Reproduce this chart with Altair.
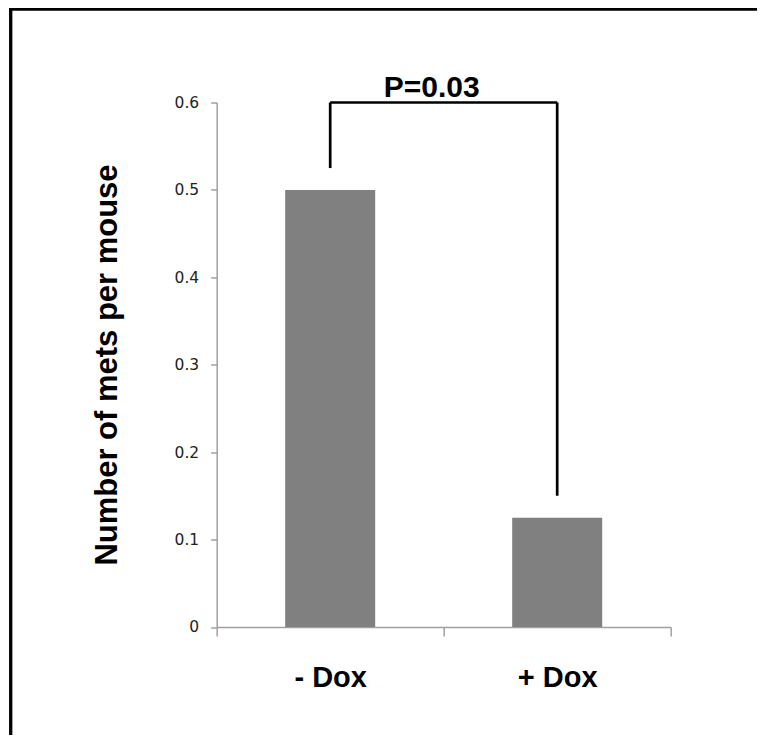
import altair as alt
import pandas as pd

# ---- data ----
categories = ["- Dox", "+ Dox"]
values = [0.5, 0.125]

bracket_top = 0.6
bracket_bottoms = [0.525, 0.15]
p_label = "P=0.03"

y_ticks = [0, 0.1, 0.2, 0.3, 0.4, 0.5, 0.6]

FONT = "Liberation Sans"
GREY_AXIS = "#a0a0a0"

bars_df = pd.DataFrame({"cat": categories, "val": values})
vert_df = pd.DataFrame({"cat": categories, "top": [bracket_top] * 2, "bottom": bracket_bottoms})
horiz_df = pd.DataFrame({"c1": [categories[0]], "c2": [categories[1]], "top": [bracket_top]})
text_df = pd.DataFrame({"cat": [categories[1]], "top": [bracket_top], "label": [p_label]})

x_scale = alt.Scale(domain=categories, paddingInner=0, paddingOuter=0)
y_scale = alt.Scale(domain=[0, 0.6], nice=False)

x_axis = alt.Axis(
    title=None, tickBand="extent", tickSize=9, tickColor=GREY_AXIS, domainColor=GREY_AXIS,
    tickWidth=1.5, domainWidth=1.5,
    labelFont=FONT, labelFontSize=29, labelFontWeight="bold", labelColor="black",
    labelBaseline="alphabetic", labelPadding=51, labelAngle=0,
)
y_axis = alt.Axis(
    values=y_ticks, grid=False, tickSize=6, tickColor=GREY_AXIS, domainColor=GREY_AXIS,
    tickWidth=1.5, domainWidth=1.5,
    labelExpr="datum.value == 0 ? '0' : format(datum.value, '.1f')",
    labelFont="DejaVu Sans", labelFontSize=15.5, labelColor="#222222", labelPadding=12,
    title="Number of mets per mouse", titleFont=FONT, titleFontSize=31, titleFontWeight="bold",
    titleColor="black", titleAngle=270, titleAlign="center", titleBaseline="alphabetic",
    titleX=-100, titleY=262,
)

bars = alt.Chart(bars_df).mark_bar(color="#808080", size=90).encode(
    x=alt.X("cat:N", scale=x_scale, axis=x_axis, sort=categories),
    y=alt.Y("val:Q", scale=y_scale, axis=y_axis),
)

verts = alt.Chart(vert_df).mark_rule(color="black", strokeWidth=2.7).encode(
    x=alt.X("cat:N", sort=categories, bandPosition=0.5),
    y="top:Q",
    y2="bottom:Q",
)

horiz = alt.Chart(horiz_df).mark_rule(color="black", strokeWidth=2.7).encode(
    x=alt.X("c1:N", sort=categories, bandPosition=0.5),
    x2=alt.X2("c2:N"),
    y="top:Q",
)

ptext = alt.Chart(text_df).mark_text(
    font=FONT, fontSize=30, fontWeight="bold", color="black",
    align="center", baseline="alphabetic", dx=-12, dy=-6,
).encode(
    x=alt.X("cat:N", sort=categories, bandPosition=0),
    y="top:Q",
    text="label:N",
)

# outer frame (left and top edges of the figure)
frame_left = alt.Chart(bars_df).mark_rule(color="black", strokeWidth=3).encode(
    x=alt.value(-206), y=alt.value(-95), y2=alt.value(640)
)
frame_top = alt.Chart(bars_df).mark_rule(color="black", strokeWidth=3).encode(
    x=alt.value(-207.5), x2=alt.value(545), y=alt.value(-93.5)
)

chart = alt.layer(bars, verts, horiz, ptext, frame_left, frame_top).properties(
    width=454, height=524.5,
    autosize=alt.AutoSizeParams(type="none"),
    padding={"left": 208.7, "top": 94.5, "right": 86, "bottom": 108},
).configure_view(stroke=None)

chart.save("out.html", embed_options={"renderer": "svg", "actions": False})
